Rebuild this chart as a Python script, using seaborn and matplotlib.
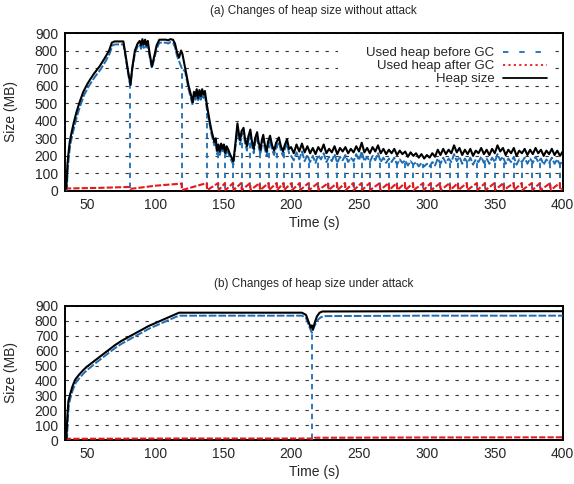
import numpy as np
import pandas as pd
import matplotlib
matplotlib.use("Agg")
import matplotlib.pyplot as plt
from matplotlib.lines import Line2D
from matplotlib.patches import Rectangle
import seaborn as sns

# ---------------- data: (a) without attack ----------------
heap_a_early_t = [33.5, 34.5, 35.3, 36, 37, 38.4, 40, 42, 44, 47, 50, 52, 55, 59, 63, 66, 68, 70, 76.5,
                  78, 80, 81.8, 83, 85, 87, 88.5, 89.5, 90.5, 91.5, 92.5, 93.5, 94.5, 95.5, 97.5, 99, 101,
                  103, 108, 109.5, 111, 113, 114.5, 116, 117.5, 119, 120, 122, 124.5, 126.5, 127.5, 128.5,
                  129.5, 130.5, 131.5, 132.5, 133.5, 134.5, 135.5, 136.5, 138, 140, 141.5, 142.5, 143.5,
                  144.5, 145.5, 146.5, 147.5, 148.5, 149.5, 150.5, 151.5, 152.5, 153.5, 155, 157.5, 159,
                  160.5, 161.5, 162.5, 163.5, 165, 166, 167.5, 168.5, 170, 171, 172.5, 173.5, 175, 176,
                  177.5, 178.5, 179.5, 180.5, 182, 183, 184.5, 186, 187.5, 189, 191, 192.5, 194, 195.5,
                  197, 198.5]
heap_a_early_v = [5, 20, 150, 210, 280, 335, 390, 450, 500, 565, 610, 635, 670, 710, 760, 800, 845, 852, 852,
                  780, 680, 605, 700, 800, 840, 855, 830, 865, 835, 862, 830, 855, 800, 710, 760, 830,
                  862, 862, 858, 865, 862, 840, 790, 760, 800, 780, 700, 600, 540, 505, 565,
                  540, 580, 530, 575, 540, 580, 550, 570, 490, 400, 340, 310, 280,
                  300, 230, 265, 225, 270, 240, 265, 215, 255, 240, 210, 168, 270,
                  385, 330, 290, 340, 360, 300, 255, 310, 350, 290, 240, 300, 335, 280,
                  235, 290, 320, 270, 225, 280, 315, 260, 230, 275, 305, 255, 225, 265,
                  295, 240]
# regular 2 s samples from 200 s to 400 s
heap_a_tail = [250, 215, 265, 225, 270, 220, 255, 215, 245, 210, 250, 225, 265, 215, 240, 220, 255, 210,
               245, 225, 250, 215, 240, 220, 255, 225, 275, 220, 245, 215, 250, 225, 260, 215, 240, 210,
               235, 215, 240, 205, 230, 210, 225, 195, 220, 200, 215, 190, 210, 185, 205, 190, 215, 195,
               235, 205, 240, 210, 235, 215, 260, 220, 245, 205, 235, 210, 240, 200, 230, 215, 245, 210,
               235, 205, 240, 215, 260, 225, 245, 205, 235, 215, 245, 200, 230, 215, 240, 205, 235, 210,
               245, 215, 235, 200, 230, 210, 240, 205, 230, 200, 225]

used_a_early_t = [33.5, 34.8, 35.5, 36.3, 37.3, 38.8, 40.5, 42.5, 44.5, 47.5, 50.5, 52.5, 55.5, 59.5, 63.5,
                  66.5, 68.5, 70.5, 76.5, 78, 80, 81.5, 83, 85, 87, 88.5, 89.5, 90.5, 91.5, 92.5, 93.5,
                  94.5, 95.5, 97.5, 99, 101, 103, 108, 109.5, 111, 113, 114.5, 116, 117.5, 119.5, 122,
                  124.5, 126.5, 127.5, 128.5, 129.5, 130.5, 131.5, 132.5, 133.5, 134.5, 135.5, 136.5, 138,
                  140, 141.5, 142.5, 143.5, 144.5, 145.5, 146.5, 147.5, 148.5, 149.5, 150.5, 151.5, 152.5,
                  153.5, 155, 157.5, 159, 160.5, 161.5, 162.5, 163.5, 165, 166, 167.5, 168.5, 170, 171,
                  172.5, 173.5, 175, 176, 177.5, 178.5, 179.5, 180.5, 182, 183, 184.5, 186, 187.5, 189,
                  191, 192.5, 194, 195.5, 197, 198.5]
used_a_early_v = [0, 5, 120, 190, 260, 315, 370, 430, 480, 545, 590, 615, 650, 690, 740,
                  785, 830, 835, 835, 770, 670, 600, 690, 785, 825, 835, 810, 845, 815, 845, 810,
                  835, 780, 700, 745, 810, 845, 845, 840, 848, 845, 820, 770, 740, 700, 680,
                  580, 520, 490, 545, 520, 560, 510, 555, 520, 560, 530, 550, 465,
                  380, 320, 290, 260, 280, 210, 245, 205, 250, 220, 245, 195, 235,
                  220, 190, 150, 250, 360, 305, 265, 315, 335, 275, 230, 285, 325, 265,
                  215, 275, 310, 255, 210, 265, 295, 245, 200, 255, 290, 235, 205, 250,
                  280, 230, 200, 240, 270, 215]
used_a_tail = [200, 175, 220, 180, 225, 170, 205, 165, 200, 160, 205, 180, 215, 165, 195, 170, 210, 160,
               195, 175, 205, 165, 190, 170, 210, 175, 225, 170, 195, 165, 200, 175, 215, 165, 190, 160,
               185, 165, 190, 150, 180, 160, 175, 145, 170, 150, 165, 140, 160, 140, 155, 140, 165, 145,
               185, 155, 190, 160, 185, 165, 210, 170, 195, 155, 185, 160, 190, 150, 180, 165, 195, 160,
               185, 155, 190, 165, 210, 175, 195, 155, 185, 165, 195, 150, 180, 165, 190, 155, 185, 160,
               195, 165, 185, 150, 180, 160, 190, 155, 180, 150, 175]

# garbage collections: time, used heap just before, used heap right after
gc_a_t = [81.5, 119.5, 138, 146.5, 151.5, 157.5, 163.5, 170, 177, 183.5, 189.5, 194.5, 200.5, 206.5, 213,
          220, 227.5, 234, 240, 246, 252, 258, 265.5, 272, 278, 284, 290, 297.5, 303, 310, 317, 323,
          329.5, 337, 343, 350, 356.5, 364, 370, 377.5, 383.5, 391, 398]
gc_a_top = [600, 700, 465, 240, 200, 150, 300, 320, 230, 260, 255, 210, 195, 185, 180,
            200, 190, 165, 200, 170, 220, 170, 185, 180, 155, 170, 150, 150, 150, 155, 175, 185,
            170, 170, 175, 165, 180, 190, 165, 175, 180, 170, 165]
gc_a_bottom = 15

after_a_early_t = [33.5, 60, 81.3, 81.7, 100, 119.3, 119.7, 137.8]
after_a_early_v = [14, 18, 23, 12, 30, 42, 5, 45]
after_low, after_high = 5, 45

# ---------------- data: (b) under attack ----------------
heap_b_t = [33.5, 34.5, 35.2, 36, 37.2, 39, 41, 44, 47, 50, 55, 60, 65, 70, 75, 80, 85, 90, 95, 100, 105,
            110, 115, 117.5, 150, 180, 208, 211, 213, 214.5, 215.3, 216, 217.5, 219, 221, 223, 300, 400]
heap_b_v = [0, 10, 150, 260, 305, 360, 405, 440, 470, 495, 530, 565, 600, 635, 665, 690, 715, 740, 765,
            785, 805, 825, 845, 855, 855, 855, 855, 840, 790, 755, 770, 740, 790, 830, 855, 863, 865, 865]
used_b_t = [33.5, 35, 35.6, 36.4, 37.6, 39.4, 41.5, 44.5, 47.5, 50.5, 55.5, 60.5, 65.5, 70.5, 75.5, 80.5,
            85.5, 90.5, 95.5, 100.5, 105.5, 110.5, 115.5, 118, 160, 208, 211, 213, 215.3, 216, 218, 220,
            222, 225, 300, 400]
used_b_v = [0, 5, 140, 240, 285, 340, 385, 420, 450, 475, 512, 548, 583, 618, 648, 673, 698, 723, 748,
            768, 788, 808, 828, 835, 835, 835, 820, 770, 720, 740, 780, 810, 825, 832, 835, 835]
gc_b_t = [215.3]
gc_b_top = [720]
gc_b_bottom = 10
after_b_t = [33.5, 120, 215, 215.5, 217, 300, 400]
after_b_v = [8, 10, 10, 5, 15, 17, 18]

x_ticks = [50, 100, 150, 200, 250, 300, 350, 400]
y_ticks = [0, 100, 200, 300, 400, 500, 600, 700, 800, 900]
titles = ["(a) Changes of heap size without attack", "(b) Changes of heap size under attack"]
labels = ["Used heap before GC", "Used heap after GC", "Heap size"]

# ---------------- assemble ----------------
tail_t = list(np.arange(200, 400.1, 2.0))
heap_a_t = heap_a_early_t + tail_t
heap_a_v = heap_a_early_v + heap_a_tail
used_a_t = used_a_early_t + tail_t
used_a_v = used_a_early_v + used_a_tail

after_a_t = list(after_a_early_t)
after_a_v = list(after_a_early_v)
saw_gcs = [g for g in gc_a_t if g >= 138]
for g0, g1 in zip(saw_gcs[:-1], saw_gcs[1:]):
    after_a_t += [g0 + 0.2, g1 - 0.2]
    after_a_v += [after_low, after_high]
after_a_t += [saw_gcs[-1] + 0.2, 400]
after_a_v += [after_low, 12]

BLUE = "#1f6db3"
RED = "#e41a1c"

sns.set_style("white")
plt.rcParams["font.family"] = ["Liberation Sans", "DejaVu Sans"]
plt.rcParams["axes.linewidth"] = 1.4

fig = plt.figure(figsize=(5.74, 4.84), dpi=100)
ax_a = fig.add_axes([0.1132, 0.6054, 0.8671, 0.3264])
ax_b = fig.add_axes([0.1132, 0.0909, 0.8671, 0.2769])

panels = [
    (ax_a, used_a_t, used_a_v, gc_a_t, gc_a_top, gc_a_bottom, after_a_t, after_a_v, heap_a_t, heap_a_v, titles[0]),
    (ax_b, used_b_t, used_b_v, gc_b_t, gc_b_top, gc_b_bottom, after_b_t, after_b_v, heap_b_t, heap_b_v, titles[1]),
]

for ax, ut, uv, gt, gtop, gbot, at, av, ht, hv, title in panels:
    sns.lineplot(x=ut, y=uv, ax=ax, color=BLUE, linewidth=1.4, estimator=None, sort=False,
                 linestyle=(0, (4, 1)), zorder=3)
    ax.vlines(gt, [gbot] * len(gt), gtop, colors=BLUE, linewidth=1.3, linestyles=[(0, (3, 2.5))], zorder=3)
    sns.lineplot(x=at, y=av, ax=ax, color=RED, linewidth=1.5, estimator=None, sort=False,
                 linestyle=(0, (3, 1.0)), zorder=4)
    sns.lineplot(x=ht, y=hv, ax=ax, color="black", linewidth=1.5, estimator=None, sort=False, zorder=5)

    ax.set_xlim(33.5, 400)
    ax.set_ylim(0, 900)
    ax.set_xticks(x_ticks)
    ax.set_yticks(y_ticks)
    ax.tick_params(axis="both", direction="in", length=6, width=1, labelsize=10, pad=5, color="black")
    ax.yaxis.grid(True, color="#333333", linewidth=0.8, linestyle=(0, (3, 6)))
    ax.xaxis.grid(False)
    ax.set_axisbelow(True)
    for s in ax.spines.values():
        s.set_visible(True)
        s.set_color("black")
        s.set_linewidth(1.4)
    ax.set_xlabel("Time (s)", fontsize=10, labelpad=3)
    ax.set_ylabel("Size (MB)", fontsize=10, labelpad=12)
    ax.set_title(title, fontsize=8.5, pad=14)

# opaque key background (hides grid behind the key, as in the original)
ax_a.add_patch(Rectangle((0.549, 0.70), 0.431, 0.26, transform=ax_a.transAxes,
                         facecolor="white", edgecolor="none", zorder=1))

handles = [
    Line2D([], [], color=BLUE, linewidth=1.3, linestyle=(0, (3, 6))),
    Line2D([], [], color=RED, linewidth=1.3, linestyle=(0, (1.2, 1.8))),
    Line2D([], [], color="black", linewidth=1.3),
]
ax_a.legend(handles, labels, loc="upper right", bbox_to_anchor=(0.968, 0.912), frameon=False,
            markerfirst=False, fontsize=9.5, handlelength=3.3, handletextpad=0.68,
            labelspacing=0.06, borderpad=0, borderaxespad=0)

fig.savefig("out.png", dpi=100)
